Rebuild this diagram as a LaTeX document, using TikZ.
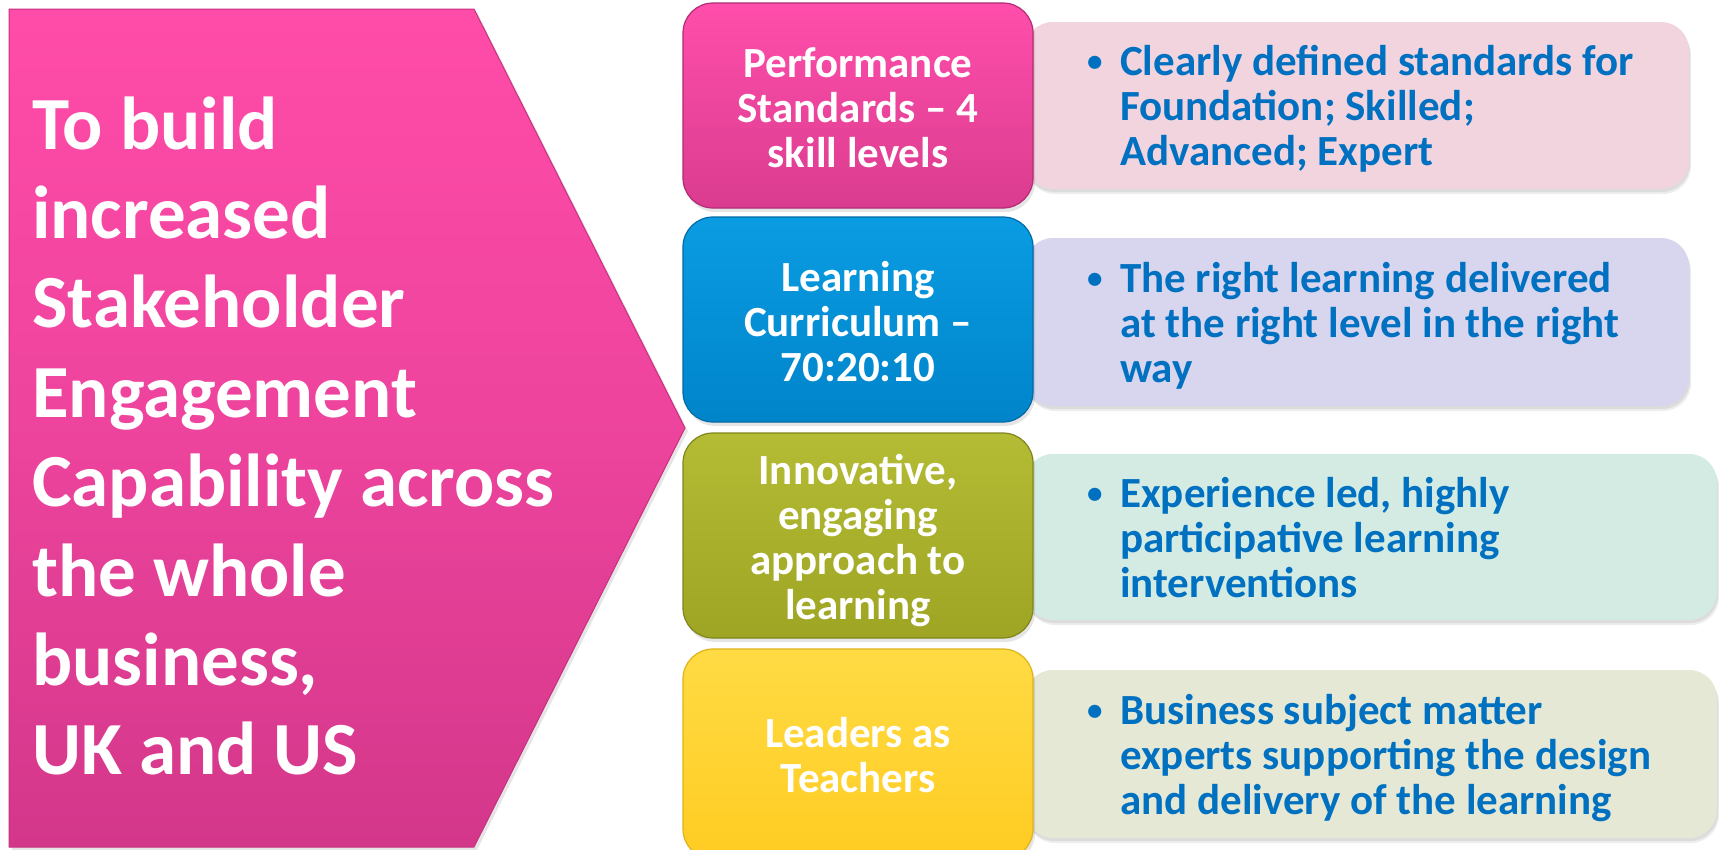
\documentclass[tikz,border=0pt]{standalone}
\usepackage{fontspec}
\setmainfont{Carlito}
\definecolor{pentTop}{HTML}{FF4CA9}
\definecolor{pentBot}{HTML}{D3378A}
\definecolor{pentEdge}{HTML}{C8307F}
\definecolor{pinkTop}{HTML}{FF4EAB}
\definecolor{pinkBot}{HTML}{DA3C8F}
\definecolor{pinkEdge}{HTML}{B02C74}
\definecolor{blueTop}{HTML}{0A9CE2}
\definecolor{blueBot}{HTML}{0084CA}
\definecolor{blueEdge}{HTML}{006BA8}
\definecolor{oliveTop}{HTML}{B4BB34}
\definecolor{oliveBot}{HTML}{9EA524}
\definecolor{oliveEdge}{HTML}{80861C}
\definecolor{yelTop}{HTML}{FFDB44}
\definecolor{yelBot}{HTML}{FFCC22}
\definecolor{yelEdge}{HTML}{E0B21A}
\definecolor{panPink}{HTML}{F2D4DF}
\definecolor{panLav}{HTML}{D8D5EE}
\definecolor{panMint}{HTML}{D3EBE3}
\definecolor{panBeige}{HTML}{E5E8D4}
\definecolor{txtBlue}{HTML}{0070C0}
\newcommand{\smallbul}{\makebox[37pt][l]{\hspace*{4pt}\raisebox{4pt}{\scalebox{0.72}{•}}}}
\begin{document}
\begin{tikzpicture}[x=1pt,y=-1pt,
  catbox/.style={rectangle, rounded corners=30pt, line width=1.2pt, inner sep=0pt,
    minimum width=350pt, text=white,
    font=\fontsize{43}{45}\selectfont\bfseries},
  panelbox/.style={rectangle, rounded corners=28pt, inner sep=0pt},
  paneltext/.style={anchor=west, inner sep=0pt, text=txtBlue,
    font=\fontsize{43}{45}\selectfont\bfseries},
  shadowA/.style={fill=black, opacity=0.07},
]
\useasboundingbox (0,0) rectangle (1719,849);
\fill[white] (0,0) rectangle (1719,849);

% goal arrow
\coordinate (ptl) at (9,9);
\coordinate (ptr) at (474,9);
\coordinate (ptip) at (685,428);
\coordinate (pbr) at (474,847);
\coordinate (pbl) at (9,847);
\fill[black,opacity=0.10] ([xshift=3pt,yshift=-3pt]ptl) -- ([xshift=3pt,yshift=-3pt]ptr) -- ([xshift=3pt,yshift=-3pt]ptip) -- ([xshift=3pt,yshift=-3pt]pbr) -- ([xshift=3pt,yshift=-3pt]pbl) -- cycle;
\shade[top color=pentTop, bottom color=pentBot, middle color=pentTop!60!pentBot] (ptl) -- (ptr) -- (ptip) -- (pbr) -- (pbl) -- cycle;
\draw[pentEdge, line width=1pt] (ptl) -- (ptr) -- (ptip) -- (pbr) -- (pbl) -- cycle;
\node[anchor=base west, inner sep=0pt, text=white,
  font=\fontsize{75}{89.4}\selectfont\bfseries] (goal) at (32,149)
  {\begin{tabular}[t]{@{}l@{}}To build\\increased\\Stakeholder\\Engagement\\Capability across\\the whole\\business,\\UK and US\end{tabular}};

% panels (behind boxes)
\foreach \cx/\cy/\w/\h/\col/\nm in {1357/105.5/664/167/panPink/p1, 1357/322/664/168/panLav/p2, 1371/537/692/166/panMint/p3, 1371/754/692/168/panBeige/p4}{
  \node[panelbox, shadowA, minimum width=\w pt, minimum height=\h pt] at (\cx+2,\cy+5) {};
  \node[panelbox, shadowA, minimum width=\w pt, minimum height=\h pt] at (\cx+1,\cy+3) {};
  \node[panelbox, fill=\col, minimum width=\w pt, minimum height=\h pt] (\nm) at (\cx,\cy) {};
}

% category boxes with shadows
\foreach \cy/\h in {105.5/205, 319.5/205, 535.5/205, 754/210}{
  \node[rectangle, rounded corners=30pt, minimum width=350pt, minimum height=\h pt, fill=black, opacity=0.10] at (860,\cy+4) {};
}
\node[catbox, minimum height=205pt, top color=pinkTop, bottom color=pinkBot, draw=pinkEdge] (b1) at (858,105.5) {};
\node[catbox, minimum height=205pt, top color=blueTop, bottom color=blueBot, draw=blueEdge] (b2) at (858,319.5) {};
\node[catbox, minimum height=205pt, top color=oliveTop, bottom color=oliveBot, draw=oliveEdge] (b3) at (858,535.5) {};
\node[catbox, minimum height=210pt, top color=yelTop, bottom color=yelBot, draw=yelEdge] (b4) at (858,754) {};
\node[catbox, minimum height=0pt, minimum width=0pt] (l1) at ([yshift=-7.5pt]b1.center)
  {\begin{tabular}{@{}c@{}}Performance\\Standards – 4\\skill levels\end{tabular}};
\node[catbox, minimum height=0pt, minimum width=0pt] (l2) at ([yshift=-7.5pt]b2.center)
  {\begin{tabular}{@{}c@{}}Learning\\Curriculum –\\70:20:10\end{tabular}};
\node[catbox, minimum height=0pt, minimum width=0pt] (l3) at ([yshift=-7.5pt]b3.center)
  {\begin{tabular}{@{}c@{}}Innovative,\\engaging\\approach to\\learning\end{tabular}};
\node[catbox, minimum height=0pt, minimum width=0pt] (l4) at ([yshift=-7pt]b4.center)
  {\begin{tabular}{@{}c@{}}Leaders as\\Teachers\end{tabular}};

% panel texts
\node[paneltext] (t1) at (1083,111.5)
  {\begin{tabular}{@{}l@{}l@{}}\smallbul&Clearly defined standards for\\&Foundation; Skilled;\\&Advanced; Expert\end{tabular}};
\node[paneltext] (t2) at (1083,328)
  {\begin{tabular}{@{}l@{}l@{}}\smallbul&The right learning delivered\\&at the right level in the right\\&way\end{tabular}};
\node[paneltext] (t3) at (1083,543)
  {\begin{tabular}{@{}l@{}l@{}}\smallbul&Experience led, highly\\&participative learning\\&interventions\end{tabular}};
\node[paneltext] (t4) at (1083,760)
  {\begin{tabular}{@{}l@{}l@{}}\smallbul&Business subject matter\\&experts supporting the design\\&and delivery of the learning\end{tabular}};
\end{tikzpicture}
\end{document}
